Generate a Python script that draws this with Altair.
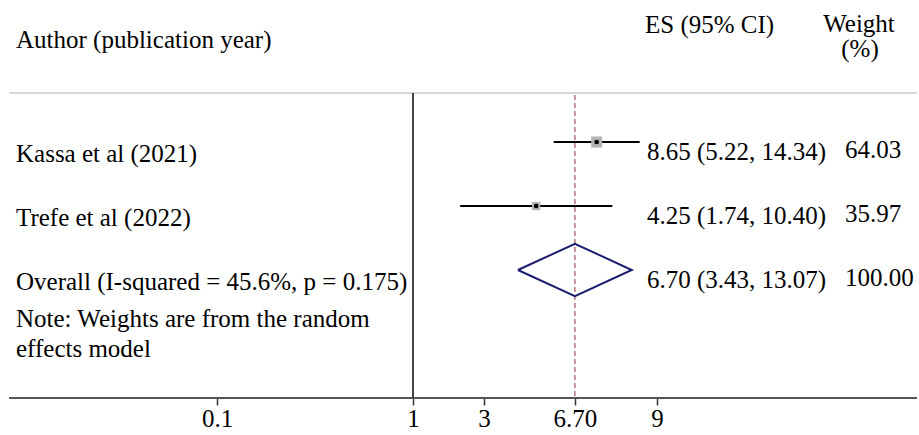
import altair as alt
import pandas as pd

# ---- data ----
studies = ["Kassa et al (2021)", "Trefe et al (2022)"]
es = [8.65, 4.25]
lo = [5.22, 1.74]
hi = [14.34, 10.40]
weights = [64.03, 35.97]

overall_label = "Overall (I-squared = 45.6%, p = 0.175)"
overall_es = 6.70
overall_lo = 3.43
overall_hi = 13.07
overall_weight = 100.00

note_text = "Note: Weights are from the random\neffects model"

tick_pos = [0.1, 1, 2.3, 6.70, 17.6]
tick_labels = ["0.1", "1", "3", "6.70", "9"]

FONT = "Liberation Serif, Times New Roman, DejaVu Serif, serif"
FS = 25

# ---- tables ----
study_df = pd.DataFrame({
    "row": [1, 2],
    "es": es, "lo": lo, "hi": hi, "w": weights,
})
text_df = pd.DataFrame({
    "row": [1, 2, 3],
    "label": studies + [overall_label],
    "es_text": [f"{e:.2f} ({l:.2f}, {h:.2f})" for e, l, h in zip(es + [overall_es], lo + [overall_lo], hi + [overall_hi])],
    "w_text": [f"{w:.2f}" for w in weights + [overall_weight]],
})
dh = 0.41
diamond_df = pd.DataFrame({
    "x": [overall_lo, overall_es, overall_hi, overall_es, overall_lo],
    "row": [3, 3 - dh, 3, 3 + dh, 3],
    "o": [0, 1, 2, 3, 4],
})

xscale = alt.Scale(type="log", domain=[0.00781, 381.7], nice=False, zero=False)
yscale = alt.Scale(domain=[-1.219, 5], reverse=True, nice=False, zero=False)

label_expr = (
    "[" + ",".join(f"'{t}'" for t in tick_labels) + "]"
    + "[indexof([" + ",".join(str(v) for v in tick_pos) + "], datum.value)]"
)

xaxis = alt.Axis(
    values=tick_pos, labelExpr=label_expr, title=None, domain=False, grid=False,
    ticks=True, tickSize=7, tickWidth=1.5, tickColor="#333333",
    labelFont=FONT, labelFontSize=FS, labelColor="black", labelPadding=1,
    labelFlush=False, labelOverlap=False, labelBound=False,
)


def X(field):
    return alt.X(field, scale=xscale, axis=xaxis)


Y = alt.Y("row:Q", scale=yscale, axis=None)
base_rule = alt.Chart(pd.DataFrame({"v": [0]}))

header_line = base_rule.mark_rule(color="#c8c8c8", strokeWidth=1.5).encode(
    x=alt.value(9), x2=alt.value(917), y=alt.value(93))
axis_line = base_rule.mark_rule(color="#555555", strokeWidth=2).encode(
    x=alt.value(9), x2=alt.value(917), y=alt.value(398))

null_line = alt.Chart(pd.DataFrame({"x": [1]})).mark_rule(color="#444444", strokeWidth=2).encode(
    x=X("x:Q"), y=alt.value(93), y2=alt.value(398))

overall_line = alt.Chart(pd.DataFrame({"x": [overall_es]})).mark_rule(
    color="#a0505e", strokeWidth=1.2, strokeDash=[5, 3]).encode(
    x=X("x:Q"), y=alt.value(95), y2=alt.value(398))

ci = alt.Chart(study_df).mark_rule(color="black", strokeWidth=2).encode(
    x=X("lo:Q"), x2="hi:Q", y=Y)

squares = alt.Chart(study_df).mark_square(color="#b3b3b3", opacity=1).encode(
    x=X("es:Q"), y=Y,
    size=alt.Size("w:Q", scale=alt.Scale(domain=[0, 100], range=[0, 190]), legend=None))

dots = alt.Chart(study_df).mark_circle(color="black", size=22, opacity=1).encode(
    x=X("es:Q"), y=Y)

diamond = alt.Chart(diamond_df).mark_line(color="#1c1c70", strokeWidth=2).encode(
    x=X("x:Q"), y=Y, order="o:Q")

labels = alt.Chart(text_df).mark_text(
    align="left", baseline="middle", dy=12, font=FONT, fontSize=FS, color="black").encode(
    x=alt.value(16), y=Y, text="label:N")

es_txt = alt.Chart(text_df).mark_text(
    align="left", baseline="middle", dy=10, font=FONT, fontSize=FS, color="black").encode(
    x=alt.value(647), y=Y, text="es_text:N")

w_txt = alt.Chart(text_df).mark_text(
    align="left", baseline="middle", dy=8, font=FONT, fontSize=FS, color="black").encode(
    x=alt.value(845), y=Y, text="w_text:N")

note = base_rule.mark_text(
    align="left", baseline="top", font=FONT, fontSize=FS, color="black",
    lineBreak="\n", lineHeight=30, text=note_text).encode(
    x=alt.value(16), y=alt.value(307))

h_author = base_rule.mark_text(
    align="left", baseline="middle", font=FONT, fontSize=FS, color="black",
    text="Author (publication year)").encode(x=alt.value(16), y=alt.value(40))
h_es = base_rule.mark_text(
    align="left", baseline="middle", font=FONT, fontSize=FS, color="black",
    text="ES (95% CI)").encode(x=alt.value(645), y=alt.value(25))
h_w1 = base_rule.mark_text(
    align="center", baseline="middle", font=FONT, fontSize=FS, color="black",
    text="Weight").encode(x=alt.value(859), y=alt.value(24))
h_w2 = base_rule.mark_text(
    align="center", baseline="middle", font=FONT, fontSize=FS, color="black",
    text="(%)").encode(x=alt.value(860), y=alt.value(49))

chart = alt.layer(
    header_line, axis_line, null_line, overall_line, ci, squares, dots, diamond,
    labels, es_txt, w_txt, note, h_author, h_es, h_w1, h_w2,
).properties(
    width=919, height=398,
    autosize=alt.AutoSizeParams(type="none"),
    padding={"left": 0, "top": 0, "right": 0, "bottom": 37},
    background="white",
).configure_view(stroke=None)

chart.save("out.html", embed_options={"renderer": "svg", "actions": False})
